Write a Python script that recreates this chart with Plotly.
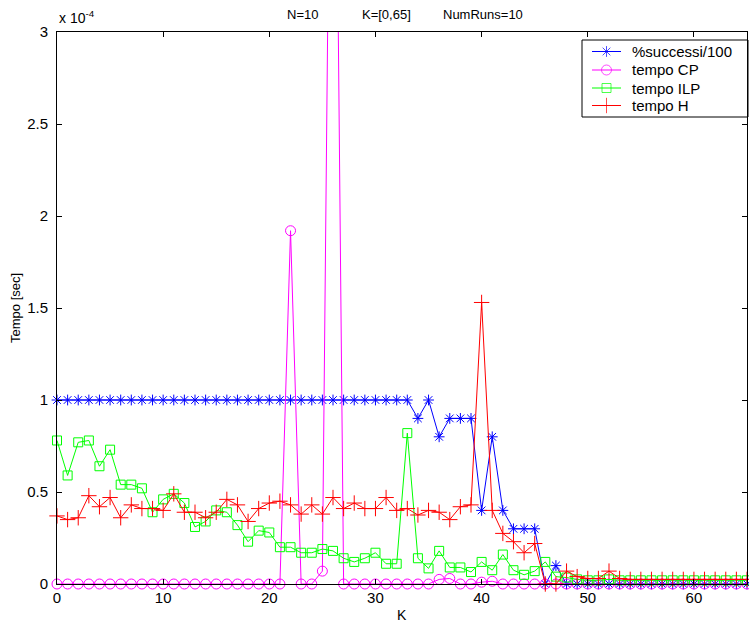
import plotly.graph_objects as go

# K values (x axis)
K = list(range(66))

# Success ratio (%successi / 100)
successi = ([1.0] * 34
            + [0.9, 1.0, 0.8, 0.9, 0.9, 0.9, 0.4, 0.8, 0.4, 0.3, 0.3, 0.3, 0.0, 0.1]
            + [0.0] * 18)

# Times in units of 1e-4 s
tempo_cp = ([0.0] * 22
            + [1.92, 0.0, 0.0, 0.07, 6.0]
            + [0.0] * 9
            + [0.025, 0.03, 0.0, 0.0, 0.01, 0.015]
            + [0.0] * 24)

tempo_ilp = [0.78, 0.59, 0.77, 0.78, 0.64, 0.73, 0.54, 0.54, 0.52,
             0.39, 0.46, 0.49, 0.44, 0.31, 0.34, 0.40, 0.39, 0.32, 0.23,
             0.29, 0.28, 0.20, 0.20, 0.17, 0.17, 0.19, 0.18, 0.14, 0.12,
             0.14, 0.17, 0.11, 0.11, 0.82, 0.14, 0.085, 0.18, 0.09, 0.09,
             0.065, 0.12, 0.075, 0.16, 0.075, 0.05, 0.07, 0.12, 0.04, 0.035,
             0.025, 0.02, 0.02, 0.025, 0.02, 0.02, 0.02, 0.02, 0.02, 0.02,
             0.02, 0.02, 0.02, 0.02, 0.02, 0.02, 0.02]

tempo_h = [0.37, 0.35, 0.36, 0.48, 0.42, 0.47, 0.36, 0.43, 0.41, 0.41,
           0.40, 0.49, 0.39, 0.39, 0.36, 0.39, 0.46, 0.43, 0.34, 0.41,
           0.44, 0.45, 0.43, 0.38, 0.43, 0.38, 0.47, 0.41, 0.44, 0.41,
           0.41, 0.47, 0.40, 0.41, 0.375, 0.40, 0.39, 0.35, 0.42, 0.43,
           1.53, 0.40, 0.275, 0.23, 0.17, 0.22, 0.0, 0.0, 0.07, 0.04,
           0.03, 0.03, 0.07, 0.03] + [0.025] * 12

x_ticks = [0, 10, 20, 30, 40, 50, 60]
y_ticks = [0, 0.5, 1, 1.5, 2, 2.5, 3]
y_tick_labels = ["0", "0.5", "1", "1.5", "2", "2.5", "3"]

series_names = ["%successi/100", "tempo CP", "tempo ILP", "tempo H"]
series_values = [successi, tempo_cp, tempo_ilp, tempo_h]
series_colors = ["#0000ff", "#ff00ff", "#00ff00", "#ff0000"]
series_symbols = ["asterisk-open", "circle-open", "square-open", "cross-thin-open"]
series_sizes = [9, 10, 9, 11]

FONT = "Liberation Sans, Arial, Helvetica, sans-serif"

# Page and plot-area geometry (pixels)
W, H = 749, 624
ML, MR, MT, MB = 57, 2, 32, 40
PW, PH = W - ML - MR, H - MT - MB


def paper_x(px):
    return (px - ML) / PW


def paper_y(py):
    return (H - MB - py) / PH


fig = go.Figure()
for name, vals, color, symbol, size in zip(series_names, series_values,
                                           series_colors, series_symbols,
                                           series_sizes):
    fig.add_trace(go.Scatter(
        x=K, y=vals, name=name, mode="lines+markers",
        line=dict(color=color, width=1),
        marker=dict(symbol=symbol, size=size, color=color,
                    line=dict(color=color, width=1)),
        cliponaxis=False, showlegend=False,
    ))

# Legend box drawn in page pixels on an invisible overlay axis pair
LEG_LEFT, LEG_RIGHT, LEG_TOP, LEG_BOTTOM = 582, 748, 40, 117
LEG_ROWS = [51.5, 70, 88, 105.5]
SAMPLE_X0, SAMPLE_X1, TEXT_X = 592, 621, 630

annotations = []
for name, color, symbol, size, row in zip(series_names, series_colors,
                                          series_symbols, series_sizes,
                                          LEG_ROWS):
    fig.add_trace(go.Scatter(
        x=[SAMPLE_X0, (SAMPLE_X0 + SAMPLE_X1) / 2, SAMPLE_X1],
        y=[row, row, row], xaxis="x2", yaxis="y2",
        mode="lines+markers", showlegend=False, hoverinfo="skip",
        line=dict(color=color, width=1),
        marker=dict(symbol=symbol, size=[0, size, 0], color=color,
                    line=dict(color=color, width=1)),
        cliponaxis=False,
    ))
    annotations.append(dict(
        text=name, x=paper_x(TEXT_X), y=paper_y(row),
        xref="paper", yref="paper",
        xanchor="left", yanchor="middle", showarrow=False,
        font=dict(family=FONT, size=15, color="black"),
    ))

axis_common = dict(
    showgrid=False, zeroline=False,
    showline=True, linecolor="black", linewidth=1, mirror="ticks",
    ticks="inside", ticklen=5, tickcolor="black", tickwidth=1,
    tickfont=dict(family=FONT, size=15, color="black"),
)

fig.update_xaxes(range=[0, 65], tickvals=x_ticks, **axis_common)
fig.update_yaxes(range=[0, 3], tickvals=y_ticks, ticktext=y_tick_labels,
                 ticklabelstandoff=5, **axis_common)

# Free-standing texts: title pieces, exponent, axis titles
texts = [
    ("N=10", 302, 15, "center", 0, 13),
    ("K=[0,65]", 386, 15, "center", 0, 13),
    ("NumRuns=10", 483, 15, "center", 0, 13),
    ("x 10<sup>-4</sup>", 57, 17, "left", 0, 14),
    ("Tempo [sec]", 15, 308, "center", -90, 13),
    ("K", 402, 615, "center", 0, 14),
]
for text, px, py, anchor, angle, size in texts:
    annotations.append(dict(
        text=text, x=paper_x(px), y=paper_y(py), xanchor=anchor,
        xref="paper", yref="paper",
        yanchor="middle", textangle=angle, showarrow=False,
        font=dict(family=FONT, size=size, color="black"),
    ))

fig.update_layout(
    width=W, height=H,
    margin=dict(l=ML, r=MR, t=MT, b=MB),
    paper_bgcolor="white", plot_bgcolor="white",
    font=dict(family=FONT, size=14, color="black"),
    showlegend=False,
    xaxis2=dict(overlaying="x", range=[ML, ML + PW], visible=False),
    yaxis2=dict(overlaying="y", range=[MT + PH, MT], visible=False),
    shapes=[dict(
        type="rect", xref="paper", yref="paper",
        x0=paper_x(LEG_LEFT), x1=paper_x(LEG_RIGHT),
        y0=paper_y(LEG_BOTTOM), y1=paper_y(LEG_TOP),
        line=dict(color="black", width=1), fillcolor="white", layer="below",
    )],
    annotations=annotations,
)

fig.write_html("out.html")
